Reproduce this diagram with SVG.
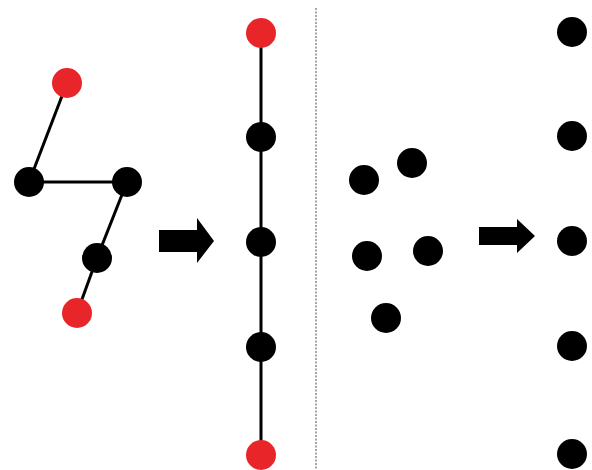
<svg xmlns="http://www.w3.org/2000/svg" width="592" height="470" viewBox="0 0 592 470">
<style>
.n{fill:#000}
.r{fill:#e8262a}
.e{stroke:#000;stroke-width:3;fill:none}
.a{fill:#000}
</style>
<rect width="592" height="470" fill="#fff"/>
<g id="connectors">
<line class="e" x1="67" y1="83" x2="29" y2="182"/>
<line class="e" x1="29" y1="182" x2="127" y2="182"/>
<line class="e" x1="127" y1="182" x2="97" y2="258"/>
<line class="e" x1="97" y1="258" x2="77" y2="313"/>
<line class="e" x1="261" y1="33" x2="261" y2="455"/>
<line x1="316" y1="8" x2="316" y2="470" stroke="#888" stroke-width="1.5" stroke-dasharray="2,1.5"/>
<polygon class="a" points="159,230 197,230 197,218 214,241 197,263 197,252 159,252"/>
<polygon class="a" points="479,227 517,227 517,219 535,236 517,253 517,245 479,245"/>
</g>
<g id="l1"><circle class="r" cx="67" cy="83" r="15"/></g>
<g id="l2"><circle class="n" cx="29" cy="182" r="15"/></g>
<g id="l3"><circle class="n" cx="127" cy="182" r="15"/></g>
<g id="l4"><circle class="n" cx="97" cy="258" r="15"/></g>
<g id="l5"><circle class="r" cx="77" cy="313" r="15"/></g>
<g id="m1"><circle class="r" cx="261" cy="33" r="15"/></g>
<g id="m2"><circle class="n" cx="261" cy="137" r="15"/></g>
<g id="m3"><circle class="n" cx="261" cy="242" r="15"/></g>
<g id="m4"><circle class="n" cx="261" cy="347" r="15"/></g>
<g id="m5"><circle class="r" cx="261" cy="455" r="15"/></g>
<g id="s1"><circle class="n" cx="364" cy="180" r="15"/></g>
<g id="s2"><circle class="n" cx="412" cy="163" r="15"/></g>
<g id="s3"><circle class="n" cx="367" cy="256" r="15"/></g>
<g id="s4"><circle class="n" cx="428" cy="251" r="15"/></g>
<g id="s5"><circle class="n" cx="386" cy="318" r="15"/></g>
<g id="c1"><circle class="n" cx="572" cy="32" r="15"/></g>
<g id="c2"><circle class="n" cx="572" cy="136" r="15"/></g>
<g id="c3"><circle class="n" cx="572" cy="241" r="15"/></g>
<g id="c4"><circle class="n" cx="572" cy="346" r="15"/></g>
<g id="c5"><circle class="n" cx="572" cy="454" r="15"/></g>
</svg>
